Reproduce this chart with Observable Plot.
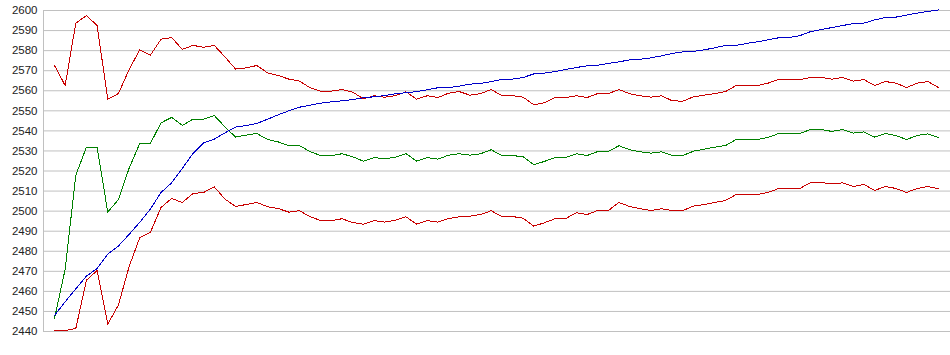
<!DOCTYPE html>
<html>
<head>
<meta charset="utf-8">
<script src="https://cdn.jsdelivr.net/npm/d3@7"></script>
<script src="https://cdn.jsdelivr.net/npm/@observablehq/plot@0.6"></script>
<style>
  html, body { margin: 0; padding: 0; background: #fff; }
  #chart svg { display: block; }
</style>
</head>
<body>
<div id="chart"></div>
<script>
const upperRed = [2572.6,2562.6,2593.7,2597.5,2592.5,2555.8,2558.6,2570.5,2580.4,2577.7,2585.7,2586.5,2580.6,2582.6,2581.7,2582.6,2576.9,2570.8,2571.4,2572.6,2568.9,2567.6,2565.8,2564.8,2561.5,2559.8,2559.8,2560.6,2559.3,2556.0,2557.5,2556.8,2557.5,2559.5,2555.8,2557.5,2556.6,2558.8,2559.6,2557.8,2558.6,2560.6,2557.6,2557.6,2556.8,2553.0,2554.0,2556.6,2556.6,2557.5,2556.6,2558.6,2558.6,2560.6,2558.5,2557.5,2556.8,2557.5,2555.0,2554.8,2557.0,2557.8,2558.6,2559.6,2562.6,2562.6,2562.6,2563.8,2565.6,2565.6,2565.6,2566.6,2566.6,2565.8,2566.6,2564.8,2565.6,2562.6,2564.6,2563.8,2561.6,2563.8,2564.6,2561.6];
const meanGreen = [2446.5,2471.0,2517.9,2531.9,2531.9,2499.5,2505.8,2521.3,2533.7,2533.7,2544.0,2546.7,2542.7,2545.8,2545.8,2547.7,2542.0,2536.9,2537.9,2538.7,2535.7,2534.5,2532.7,2532.7,2529.6,2527.7,2527.7,2528.6,2527.1,2524.9,2526.7,2526.1,2526.9,2528.7,2524.9,2526.7,2525.9,2527.9,2528.6,2527.9,2528.6,2530.6,2527.7,2527.7,2527.1,2523.1,2524.8,2526.7,2526.7,2528.6,2527.7,2529.7,2529.7,2532.6,2530.6,2529.6,2528.9,2529.6,2527.7,2527.7,2529.9,2530.9,2531.9,2532.7,2535.7,2535.7,2535.7,2536.7,2538.7,2538.7,2538.7,2540.7,2540.7,2539.7,2540.7,2538.9,2539.5,2536.9,2538.7,2537.7,2535.7,2537.7,2538.5,2536.7];
const lowerRed = [2440.5,2440.5,2441.5,2465.6,2470.4,2443.7,2453.2,2472.3,2486.7,2489.4,2501.8,2506.3,2504.3,2508.8,2509.3,2512.1,2506.0,2502.3,2503.3,2504.3,2502.2,2501.3,2499.5,2500.2,2497.2,2495.3,2495.3,2496.2,2494.3,2493.5,2495.3,2494.5,2495.5,2497.2,2493.5,2495.3,2494.5,2496.3,2497.2,2497.5,2498.3,2500.2,2497.3,2497.3,2496.5,2492.5,2494.2,2496.2,2496.3,2499.2,2498.3,2500.3,2500.3,2504.3,2502.3,2501.2,2500.3,2501.2,2500.3,2500.3,2502.5,2503.3,2504.3,2505.3,2508.3,2508.3,2508.3,2509.3,2511.3,2511.3,2511.3,2514.3,2514.3,2513.5,2514.1,2512.3,2513.3,2510.3,2512.3,2511.3,2509.3,2511.3,2512.3,2511.1];
const blueLine = [2448.0,2454.8,2461.3,2467.6,2471.4,2478.6,2482.6,2488.4,2494.4,2501.0,2509.3,2514.1,2521.3,2528.7,2534.1,2535.9,2539.0,2541.9,2542.7,2543.7,2545.8,2548.0,2550.0,2551.8,2552.8,2553.8,2554.5,2555.0,2555.6,2556.5,2557.0,2557.6,2558.5,2559.0,2559.6,2560.5,2561.5,2561.6,2562.3,2563.3,2563.6,2564.6,2565.6,2565.8,2566.6,2568.4,2568.8,2569.6,2570.6,2571.6,2572.4,2572.7,2573.6,2574.4,2575.4,2575.7,2576.4,2577.4,2578.6,2579.4,2579.6,2580.4,2581.4,2582.6,2582.6,2583.6,2584.4,2585.4,2586.4,2586.5,2587.5,2589.5,2590.5,2591.5,2592.5,2593.5,2593.7,2595.3,2596.5,2596.7,2597.7,2598.7,2599.5,2600.3];
const yTicks = d3.range(2440, 2601, 10);
const xDomain = [-1.033, 84.127];
const yDomain = [2440, 2600];

const seriesList = [
  {name: "upper", values: upperRed, color: "#c80000"},
  {name: "mean", values: meanGreen, color: "#008000"},
  {name: "lower", values: lowerRed, color: "#c80000"},
  {name: "avg", values: blueLine, color: "#0000c8"}
];
const rows = seriesList.flatMap(s => s.values.map((v, i) => ({series: s.name, i, v})));

const chart = Plot.plot({
  width: 950,
  height: 355,
  marginLeft: 43,
  marginRight: 0,
  marginTop: 10,
  marginBottom: 24,
  style: {fontFamily: "'Liberation Sans', Arial, sans-serif", fontSize: "11.5px", color: "#222", background: "#fff"},
  x: {domain: xDomain, axis: null},
  y: {domain: yDomain, ticks: yTicks, tickFormat: d => String(d), tickSize: 0, tickPadding: 6, label: null},
  marks: [
    Plot.gridY(yTicks, {stroke: "#c0c0c0", strokeOpacity: 1, strokeWidth: 1}),
    Plot.ruleX([xDomain[0]], {stroke: "#c0c0c0", strokeWidth: 1}),
    Plot.axisY(yTicks, {tickSize: 0, tickPadding: 6, label: null, tickFormat: d => String(d), fill: "#222"}),
    ...seriesList.map(s => Plot.lineY(rows.filter(r => r.series === s.name), {x: "i", y: "v", stroke: s.color, strokeWidth: 1, shapeRendering: "crispEdges"}))
  ]
});
document.getElementById("chart").appendChild(chart);
</script>
</body>
</html>
